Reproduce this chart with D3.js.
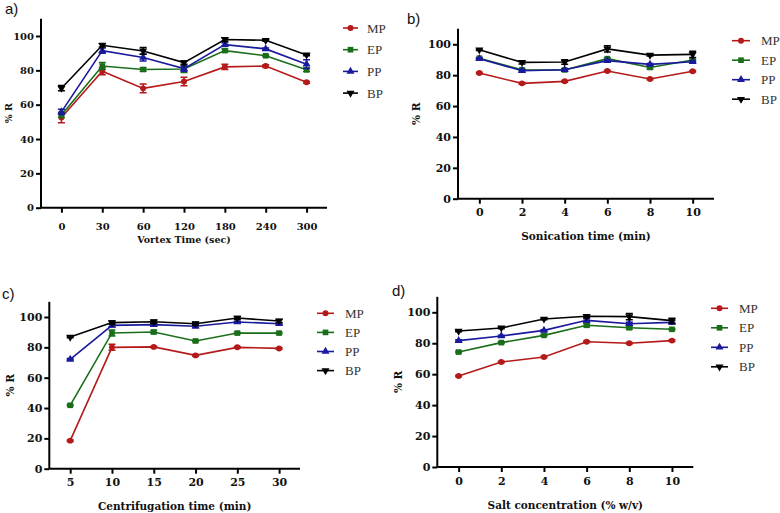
<!DOCTYPE html>
<html><head><meta charset="utf-8">
<script src="https://cdn.jsdelivr.net/npm/d3@7"></script>
<style>body{margin:0;background:#fff}svg{display:block}</style>
</head><body>
<svg id="chart" width="780" height="513"></svg>
<script>
// ---------- DATA ----------
const seriesNames = ["MP", "EP", "PP", "BP"];
const seriesColors = ["#b51a1a", "#1a6e1a", "#1a1a9c", "#000000"];

// a) Vortex time
const vortexTicks = ["0", "30", "60", "120", "180", "240", "300"];
const vortexMP = [52.5, 79.5, 69.5, 73.5, 82, 82.5, 73];
const vortexEP = [54, 82.5, 80.5, 80.8, 91.5, 88.5, 80.3];
const vortexPP = [55.8, 91.5, 87.5, 81, 95, 92.5, 83.6];
const vortexBP = [69.6, 94.6, 91.3, 84.5, 98, 97.5, 89];
const vortexErrMP = [3, 2, 2.5, 2.5, 1.5, 0.8, 0.5];
const vortexErrEP = [1.5, 2, 1, 2, 1, 0.5, 1];
const vortexErrPP = [1.5, 1.5, 2, 1.5, 1, 0.5, 2.5];
const vortexErrBP = [1.5, 1, 2, 1, 1, 0.5, 0.5];

// b) Sonication time
const sonicTicks = ["0", "2", "4", "6", "8", "10"];
const sonicMP = [81.4, 74.7, 76, 82.7, 77.5, 82.5];
const sonicEP = [91, 83.5, 83.4, 90.7, 85, 89.8];
const sonicPP = [90.7, 82.9, 83.5, 89.4, 87, 88.7];
const sonicBP = [96.5, 88.3, 88.5, 97, 93, 93.5];
const sonicErrMP = [0.5, 0.5, 0.5, 0.5, 0.5, 0.5];
const sonicErrEP = [0.5, 0.5, 0.8, 0.5, 1, 0.5];
const sonicErrPP = [0.5, 0.8, 0.5, 0.5, 0.5, 0.5];
const sonicErrBP = [0.5, 1, 1.5, 2, 0.5, 2];

// c) Centrifugation time
const centTicks = ["5", "10", "15", "20", "25", "30"];
const centMP = [18.5, 80, 80.3, 74.7, 80, 79.3];
const centEP = [41.8, 89.5, 90.1, 84.2, 89.4, 89.4];
const centPP = [72.1, 94.5, 95, 93.9, 96.7, 95.6];
const centBP = [86.8, 96.3, 96.9, 95.6, 99.3, 97.4];
const centErrMP = [0.5, 2, 0.5, 0.5, 0.5, 0.5];
const centErrEP = [0.5, 2, 1, 0.5, 0.5, 0.5];
const centErrPP = [0.5, 1, 1, 1, 0.5, 0.5];
const centErrBP = [0.5, 1, 1.2, 1, 1, 1];

// d) Salt concentration
const saltTicks = ["0", "2", "4", "6", "8", "10"];
const saltMP = [58.8, 67.9, 71.1, 81, 80, 81.7];
const saltEP = [74.3, 80.4, 85.1, 91.6, 90, 89];
const saltPP = [81.7, 84.7, 88.3, 94.8, 92.6, 93.5];
const saltBP = [87.9, 89.9, 95.7, 97.4, 97.2, 94.6];
const saltErrMP = [0.5, 0.5, 0.5, 0.5, 0.5, 0.5];
const saltErrEP = [0.5, 0.5, 0.5, 1, 1, 0.5];
const saltErrPP = [0.5, 0.5, 0.5, 1, 1, 1];
const saltErrBP = [0.5, 0.5, 0.5, 1, 2, 1.5];

const yTicks = [0, 20, 40, 60, 80, 100];
const yMax = 110;

// ---------- DRAW ----------
const svg = d3.select("#chart");
const serifB = "'DejaVu Serif',serif";
const serif = "'Liberation Serif','Times New Roman',serif";

const panels = [
  {label: "a)", title: "Vortex Time (sec)", cats: vortexTicks,
   series: [vortexMP, vortexEP, vortexPP, vortexBP], errs: [vortexErrMP, vortexErrEP, vortexErrPP, vortexErrBP],
   x0: 41, x1: 327, y0: 207.7, lx: 5, ly: 14, tickPad: 10, titleY: 243, yLabX: 12,
   leg: {x1: 343, x2: 358, tx: 367, y: 28, dy: 21.7}, fs: 10, tfs: 9.5},
  {label: "b)", title: "Sonication time (min)", cats: sonicTicks,
   series: [sonicMP, sonicEP, sonicPP, sonicBP], errs: [sonicErrMP, sonicErrEP, sonicErrPP, sonicErrBP],
   x0: 458, x1: 714, y0: 198.7, lx: 407, ly: 24, tickPad: 5, titleY: 240, yLabX: 420,
   leg: {x1: 732, x2: 750, tx: 761, y: 40.7, dy: 19.5}, fs: 11, tfs: 10.5},
  {label: "c)", title: "Centrifugation time (min)", cats: centTicks,
   series: [centMP, centEP, centPP, centBP], errs: [centErrMP, centErrEP, centErrPP, centErrBP],
   x0: 49.3, x1: 300, y0: 468.7, lx: 2, ly: 299, tickPad: 5, titleY: 510, yLabX: 14,
   leg: {x1: 317, x2: 334, tx: 345, y: 313.3, dy: 19.1}, fs: 11, tfs: 10.5},
  {label: "d)", title: "Salt concentration (% w/v)", cats: saltTicks,
   series: [saltMP, saltEP, saltPP, saltBP], errs: [saltErrMP, saltErrEP, saltErrPP, saltErrBP],
   x0: 437.3, x1: 693.3, y0: 467, lx: 392, ly: 296, tickPad: 5, titleY: 509, yLabX: 402,
   leg: {x1: 711, x2: 728, tx: 739, y: 308.3, dy: 19.5}, fs: 11, tfs: 10.5}
];
// pixel position of value 100 in each panel (from reference)
const y100 = [36, 44.3, 317, 312.3];

const symbolTypes = [d3.symbolCircle, d3.symbolSquare, d3.symbolTriangle, d3.symbolTriangle];
const symbolSizes = [28, 32, 28, 28];
const symbolRot = [0, 0, 0, 180];

function marker(g, i, x, y) {
  g.append("path")
    .attr("d", d3.symbol().type(symbolTypes[i]).size(symbolSizes[i])())
    .attr("transform", `translate(${x},${y}) rotate(${symbolRot[i]})`)
    .attr("fill", seriesColors[i]);
}

panels.forEach((p, pi) => {
  const unit = (p.y0 - y100[pi]) / 100;
  const yTop = p.y0 - yMax * unit;
  const x = d3.scalePoint().domain(p.cats).range([p.x0, p.x1]).padding(0.5);
  const y = d3.scaleLinear().domain([0, yMax]).range([p.y0, yTop]);
  const g = svg.append("g");

  const xa = g.append("g").attr("transform", `translate(0,${p.y0})`)
    .call(d3.axisBottom(x).tickSize(5).tickPadding(p.tickPad));
  const ya = g.append("g").attr("transform", `translate(${p.x0},0)`)
    .call(d3.axisLeft(y).tickValues(yTicks).tickSize(5).tickPadding(2));
  [xa, ya].forEach(a => {
    a.attr("font-family", serifB);
    a.select(".domain").attr("stroke", "#000").attr("stroke-width", 2);
    a.selectAll(".tick line").attr("stroke", "#000").attr("stroke-width", 2);
    a.selectAll(".tick text").attr("fill", "#111").attr("font-family", serifB)
      .attr("font-weight", "bold").attr("font-size", p.fs);
  });
  xa.select(".domain").attr("d", `M${p.x0},0H${p.x1}`);
  ya.select(".domain").attr("d", `M0,${p.y0}V${yTop}`);

  g.append("text").attr("x", (p.x0 + p.x1) / 2).attr("y", p.titleY)
    .attr("text-anchor", "middle").attr("font-family", serifB).attr("font-weight", "bold")
    .attr("font-size", p.tfs).attr("fill", "#111").text(p.title);
  g.append("text").attr("transform", `translate(${p.yLabX},${(p.y0 + yTop) / 2}) rotate(-90)`)
    .attr("text-anchor", "middle").attr("font-family", serifB).attr("font-weight", "bold")
    .attr("font-size", p.tfs).attr("fill", "#111").text("% R");
  g.append("text").attr("x", p.lx).attr("y", p.ly)
    .attr("font-family", "'Liberation Sans',Arial,sans-serif").attr("font-size", 15)
    .attr("fill", "#111").text(p.label);

  p.series.forEach((vals, si) => {
    const col = seriesColors[si];
    const sg = g.append("g");
    sg.append("path").datum(vals)
      .attr("d", d3.line().x((d, i) => x(p.cats[i])).y(d => y(d)))
      .attr("fill", "none").attr("stroke", col).attr("stroke-width", 1.6);
    vals.forEach((v, i) => {
      const e = p.errs[si][i];
      const cx = x(p.cats[i]);
      const ylo = y(v - e), yhi = y(v + e);
      sg.append("path")
        .attr("d", `M${cx},${ylo}V${yhi}M${cx - 3.5},${ylo}H${cx + 3.5}M${cx - 3.5},${yhi}H${cx + 3.5}`)
        .attr("stroke", col).attr("stroke-width", 1.5).attr("fill", "none");
      marker(sg, si, cx, y(v));
    });
  });

  seriesNames.forEach((n, si) => {
    const ly = p.leg.y + si * p.leg.dy;
    g.append("line").attr("x1", p.leg.x1).attr("x2", p.leg.x2).attr("y1", ly).attr("y2", ly)
      .attr("stroke", seriesColors[si]).attr("stroke-width", 1.6);
    marker(g, si, (p.leg.x1 + p.leg.x2) / 2, ly);
    g.append("text").attr("x", p.leg.tx).attr("y", ly).attr("dy", "0.35em")
      .attr("font-family", serif).attr("font-size", 13).attr("fill", "#333").text(n);
  });
});
</script>
</body></html>
